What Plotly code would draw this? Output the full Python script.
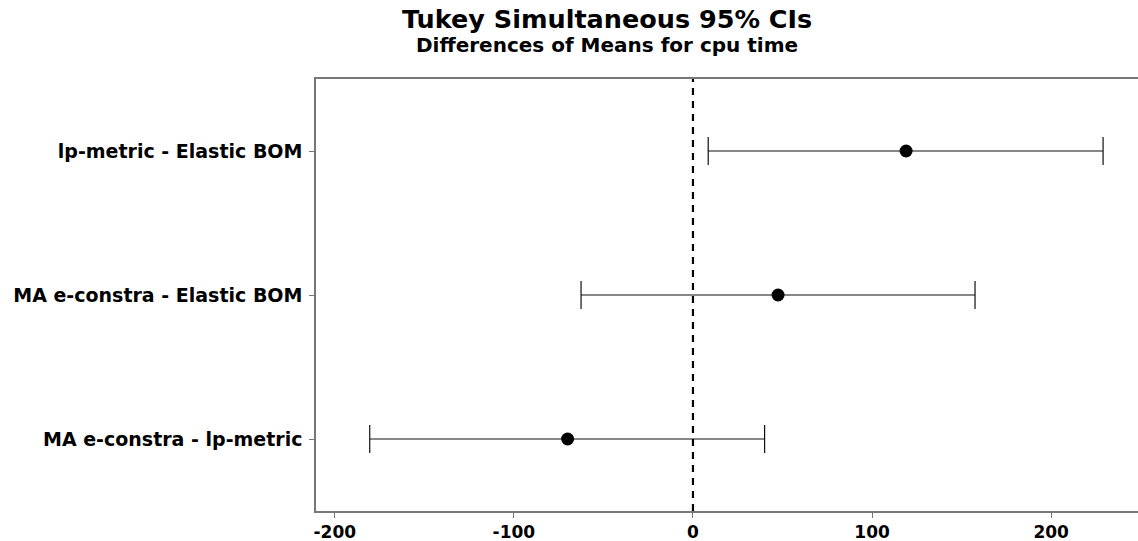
import plotly.graph_objects as go

comparisons = ["MA e-constra - lp-metric", "MA e-constra - Elastic BOM", "lp-metric - Elastic BOM"]
centers = [-70.0, 47.5, 119.0]
lowers = [-180.5, -62.5, 8.5]
uppers = [40.0, 157.5, 229.0]
x_ticks = [-200, -100, 0, 100, 200]
x_tick_labels = ["-200", "-100", "0", "100", "200"]

ypos = list(range(len(comparisons)))
err_plus = [u - c for u, c in zip(uppers, centers)]
err_minus = [c - l for c, l in zip(centers, lowers)]

FONT = "DejaVu Sans"

fig = go.Figure()
fig.add_trace(go.Scatter(
    x=centers, y=ypos, mode="markers",
    marker=dict(color="black", size=13, symbol="circle"),
    error_x=dict(type="data", symmetric=False, array=err_plus, arrayminus=err_minus,
                 color="#111111", thickness=1.2, width=14),
    showlegend=False, hoverinfo="x+y",
))

fig.add_shape(type="line", xref="x", yref="paper", x0=0, x1=0, y0=0, y1=1,
              line=dict(color="black", width=2.2, dash="7px,6px"))

fig.update_layout(
    width=1138, height=541,
    margin=dict(l=316, r=0, t=79, b=30),
    plot_bgcolor="white", paper_bgcolor="white",
    font=dict(family=FONT, color="black"),
    xaxis=dict(range=[-210.5, 248.5], tickvals=x_ticks, ticktext=x_tick_labels,
               showgrid=False, zeroline=False,
               showline=True, linecolor="#777777", linewidth=1.5, mirror=True,
               ticks="outside", ticklen=5, tickcolor="#777777",
               tickfont=dict(family=FONT, size=17, color="black", weight="bold")),
    yaxis=dict(range=[-0.5, 2.5], tickvals=ypos, ticktext=comparisons, showgrid=False,
               zeroline=False, showline=True, linecolor="#777777", linewidth=1.5, mirror=False,
               ticks="outside", ticklen=5, tickcolor="#777777", ticklabelstandoff=3,
               tickfont=dict(family=FONT, size=19, color="black", weight="bold")),
    annotations=[
        dict(text="Tukey Simultaneous 95% CIs", xref="paper", yref="paper",
             x=(607 - 316) / 822, y=1 + (79 - 19) / 432, xanchor="center", yanchor="middle",
             showarrow=False, font=dict(family=FONT, size=25.5, color="black", weight="bold")),
        dict(text="Differences of Means for cpu time", xref="paper", yref="paper",
             x=(607 - 316) / 822, y=1 + (79 - 45) / 432, xanchor="center", yanchor="middle",
             showarrow=False, font=dict(family=FONT, size=20, color="black", weight="bold")),
    ],
)

fig.write_html("out.html")
